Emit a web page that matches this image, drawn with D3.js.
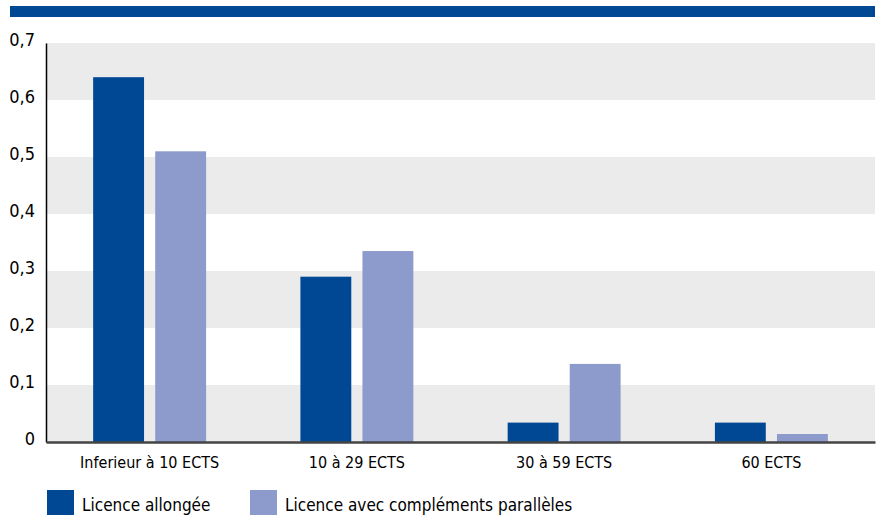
<!DOCTYPE html>
<html>
<head>
<meta charset="utf-8">
<script src="https://cdn.jsdelivr.net/npm/d3@7"></script>
<style>
  body { margin: 0; background: #fff; }
  svg text { font-family: "Liberation Sans Narrow", "DejaVu Sans Condensed", "Roboto", sans-serif; fill: #000; }
</style>
</head>
<body>
<div id="chart"></div>
<script>
// data
const categories = ['Inferieur à 10 ECTS', '10 à 29 ECTS', '30 à 59 ECTS', '60 ECTS'];
const seriesNames = ['Licence allongée', 'Licence avec compléments parallèles'];
const allongee = [0.64, 0.29, 0.034, 0.034];
const paralleles = [0.51, 0.335, 0.137, 0.014];
const yTicks = [0, 0.1, 0.2, 0.3, 0.4, 0.5, 0.6, 0.7];
const colors = ['#004893', '#8c9acc'];

const svgWidth = 876, svgHeight = 515;
const margin = {top: 43, right: 1, bottom: 73, left: 46};
const width = svgWidth - margin.left - margin.right;
const height = svgHeight - margin.top - margin.bottom;

const rows = categories.map((c, i) => ({cat: c, values: [allongee[i], paralleles[i]]}));

const svg = d3.select('#chart').append('svg')
    .attr('width', svgWidth)
    .attr('height', svgHeight);

// top banner
svg.append('rect')
    .attr('x', 10).attr('y', 6)
    .attr('width', 865).attr('height', 11)
    .attr('fill', '#004893');

const g = svg.append('g').attr('transform', `translate(${margin.left},${margin.top})`);

const y = d3.scaleLinear().domain([0, 0.7]).range([height, 0]);
const x0 = d3.scaleBand().domain(categories).range([0, width])
    .paddingInner(0.455).paddingOuter(0.2275);
const x1 = d3.scaleBand().domain([0, 1]).range([0, x0.bandwidth()]).paddingInner(0.18);

// alternating grey bands
const bands = yTicks.slice(0, -1).filter((d, i) => i % 2 === 0);
g.selectAll('.band').data(bands).enter().append('rect')
    .attr('class', 'band')
    .attr('x', 0)
    .attr('width', width)
    .attr('y', d => y(d + 0.1))
    .attr('height', d => y(d) - y(d + 0.1))
    .attr('fill', '#ebebeb');

// bars
const groups = g.selectAll('.grp').data(rows).enter().append('g')
    .attr('class', 'grp')
    .attr('transform', d => `translate(${x0(d.cat)},0)`);

groups.selectAll('rect').data(d => d.values.map((v, i) => ({i, v}))).enter().append('rect')
    .attr('x', d => x1(d.i))
    .attr('width', x1.bandwidth())
    .attr('y', d => y(d.v))
    .attr('height', d => height - y(d.v))
    .attr('fill', d => colors[d.i]);

// y axis
const yAxis = d3.axisLeft(y).tickValues(yTicks).tickSize(0).tickPadding(11)
    .tickFormat(d => d3.format('.1f')(d).replace('.', ',').replace(/^0,0$/, '0'));
const yg = g.append('g').call(yAxis);
yg.select('.domain').attr('stroke', '#000').attr('stroke-width', 1.5);
yg.selectAll('text').style('font-size', '18px').attr('dy', '0.15em');

// x axis
const xAxis = d3.axisBottom(x0).tickSize(0).tickPadding(15);
const xg = g.append('g').attr('transform', `translate(0,${height})`).call(xAxis);
xg.select('.domain').attr('stroke', '#444').attr('stroke-width', 2.5);
xg.selectAll('text').style('font-size', '16px');

// legend
const legendX = [47, 250];
const legend = svg.selectAll('.leg').data(seriesNames).enter().append('g')
    .attr('class', 'leg')
    .attr('transform', (d, i) => `translate(${legendX[i]},490)`);
legend.append('rect')
    .attr('width', 27).attr('height', 26)
    .attr('fill', (d, i) => colors[i]);
legend.append('text')
    .attr('x', 35).attr('y', 21)
    .style('font-size', '17px')
    .text(d => d);
</script>
</body>
</html>
